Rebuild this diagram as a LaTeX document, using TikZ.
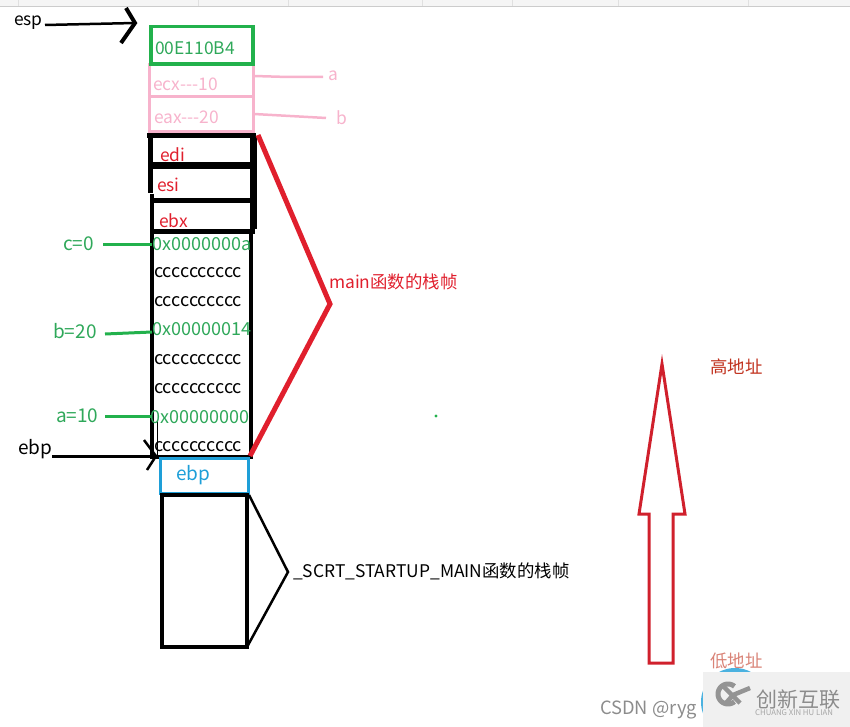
\documentclass[tikz,border=0pt]{standalone}
\usepackage{fontspec}
\setmainfont{Noto Sans CJK SC}
\definecolor{grn}{HTML}{22B14C}
\definecolor{tgrn}{HTML}{2FA85A}
\definecolor{pnk}{HTML}{F7B3CC}
\definecolor{redd}{HTML}{E01F2D}
\definecolor{dred}{HTML}{D0202C}
\definecolor{blu}{HTML}{1E9FD8}
\definecolor{brn}{HTML}{C0301C}
\tikzset{x=1pt,y=-1pt,
  lbl/.style={inner sep=0pt,yshift=-1.5pt,font=\fontsize{17.4}{18}\selectfont,anchor=west},
  big/.style={lbl,font=\fontsize{19}{19}\selectfont},
  ccc/.style={lbl,text=black,font=\fontsize{18}{18}\selectfont},
  hexv/.style={lbl,text=tgrn,font=\fontsize{18}{18}\selectfont},
  blk/.style={draw=black,line width=4.5pt},
  line cap=round,line join=round}
\begin{document}
\begin{tikzpicture}
\useasboundingbox (0,0) rectangle (850,727);
% top strip
\fill[black!4] (0,0) rectangle (850,6);
\draw[black!20,line width=1pt] (0,6.5) -- (850,6.5);
\foreach \x in {18,198,288,422,512,618,748}{\draw[black!12,line width=.6pt] (\x,0) -- (\x,6);}
% pink boxes
\draw[pnk,line width=3pt] (149,65) rectangle (253,97);
\draw[pnk,line width=3pt] (149,97) rectangle (253,132);
\draw[pnk,line width=2.5pt] (254,76) -- (288,77) -- (323,77);
\draw[pnk,line width=2.5pt] (254,114) -- (326,118);
% green box
\draw[grn,line width=3.5pt] (151,26.5) rectangle (253,64);
% black stack
\draw[blk,line width=5pt] (147,136) -- (256,136);
\draw[blk,line width=5pt] (150.5,136) -- (150.5,193);
\draw[blk,line width=7pt] (253.5,136) -- (253.5,229);
\draw[blk,line width=6.5pt] (152,165.5) -- (252,165.5);
\draw[blk,line width=4.5pt] (152,200.5) -- (252,200.5);
\draw[blk,line width=5pt] (152,231) -- (255,231);
\draw[blk] (152,194) -- (152,457) -- (251,457) -- (251,231);
\draw[black,line width=1pt] (157,420) -- (157,455);
% blue box
\draw[blu,line width=3pt] (160,458) rectangle (248,493);
% lower box
\draw[blk] (162,495) -- (247,495) -- (247,647) -- (162,647) -- cycle;
\draw[black,line width=2.5pt] (249,495) -- (288,572) -- (247,647);
% red bracket
\draw[redd,line width=5pt] (258,135) -- (330,304) -- (250,456);
% red arrow
\draw[dred,line width=3pt] (649,663) -- (649,514) -- (639,514) -- (662,364) -- (685,514) -- (673,514) -- (673,663) -- cycle;
% esp arrow
\coordinate (espA) at (45,25);
\coordinate (espB) at (135,23);
\draw[black,line width=2.5pt] (espA) -- (espB);
\draw[black,line width=4pt] (126,8) -- (135,23) -- (121,43);
% ebp arrow
\coordinate (ebpA) at (52,456.5);
\coordinate (ebpB) at (156,456.5);
\draw[black,line width=2.5pt] (ebpA) -- (ebpB);
\draw[black,line width=2.5pt] (144,440) -- (156,456) -- (147,470);
% green connectors
\draw[grn,line width=3pt] (103,244) -- (152,244);
\draw[grn,line width=3pt] (105,334) -- (152,332);
\draw[grn,line width=3pt] (105,416) -- (152,416);
\fill[grn] (436,416) circle (1.7);
% texts
\node[lbl,text=black] (esp) at (14,21) {esp};
\node[big,text=black] (ebplab) at (18,448) {ebp};
\node[lbl,text=tgrn] (v1) at (155,47) {00E110B4};
\node[lbl,text=pnk] (v2) at (153,83) {ecx-{}-{}-10};
\node[lbl,text=pnk] (v3) at (154,116) {eax-{}-{}-20};
\node[lbl,text=pnk] (la) at (328,74) {a};
\node[lbl,text=pnk] (lb) at (336,116) {b};
\node[lbl,text=redd] (edi) at (160,153) {edi};
\node[lbl,text=redd] (esi) at (157,183) {esi};
\node[lbl,text=redd] (ebx) at (159,219) {ebx};
\node[big,text=tgrn] (c0) at (63,242.5) {c=0};
\node[big,text=tgrn] (b20) at (53,330) {b=20};
\node[big,text=tgrn] (a10) at (56,414) {a=10};
\node[hexv] (h1) at (152,243) {0x0000000a};
\node[ccc] (c1) at (154,271) {cccccccccc};
\node[ccc] (c2) at (154,300) {cccccccccc};
\node[hexv] (h2) at (152,328) {0x00000014};
\node[ccc] (c3) at (154,358) {cccccccccc};
\node[ccc] (c4) at (154,387) {cccccccccc};
\node[hexv] (h3) at (150,416) {0x00000000};
\node[ccc] (c5) at (154,445) {cccccccccc};
\node[big,text=blu] (ebpv) at (176,474) {ebp};
\node[lbl,text=redd] (mainl) at (329,280) {main函数的栈帧};
\node[lbl,text=black] (scrt) at (293,570) {\_SCRT\_STARTUP\_MAIN函数的栈帧};
\node[lbl,text=brn] (hi) at (710,365) {高地址};
\node[lbl,text=brn!60] (lo) at (710,659) {低地址};
% watermark
\fill[blu!80] (735,702) circle (34);
\node[lbl,text=black!45,font=\fontsize{18.3}{18}\selectfont] (csdn) at (600,708) {CSDN @ryg};
\fill[black!6] (703,672) rectangle (850,727);
\draw[black!42,line width=5pt,line cap=butt] plot[domain=50:310,samples=30] ({728+10*cos(\x)},{694+10*sin(\x)});
\draw[black!42,line width=4.5pt,line cap=butt] (722,685) -- (740,703) (750,688) -- (733,695) (733,695) -- (726,703);
\node[lbl,text=black!45,font=\fontsize{21}{21}\selectfont] (cx) at (756,698) {创新互联};
\node[lbl,text=black!35,font=\fontsize{7.8}{8}\selectfont] (cn) at (755,711) {CHUANG XIN HU LIAN};
\end{tikzpicture}
\end{document}
